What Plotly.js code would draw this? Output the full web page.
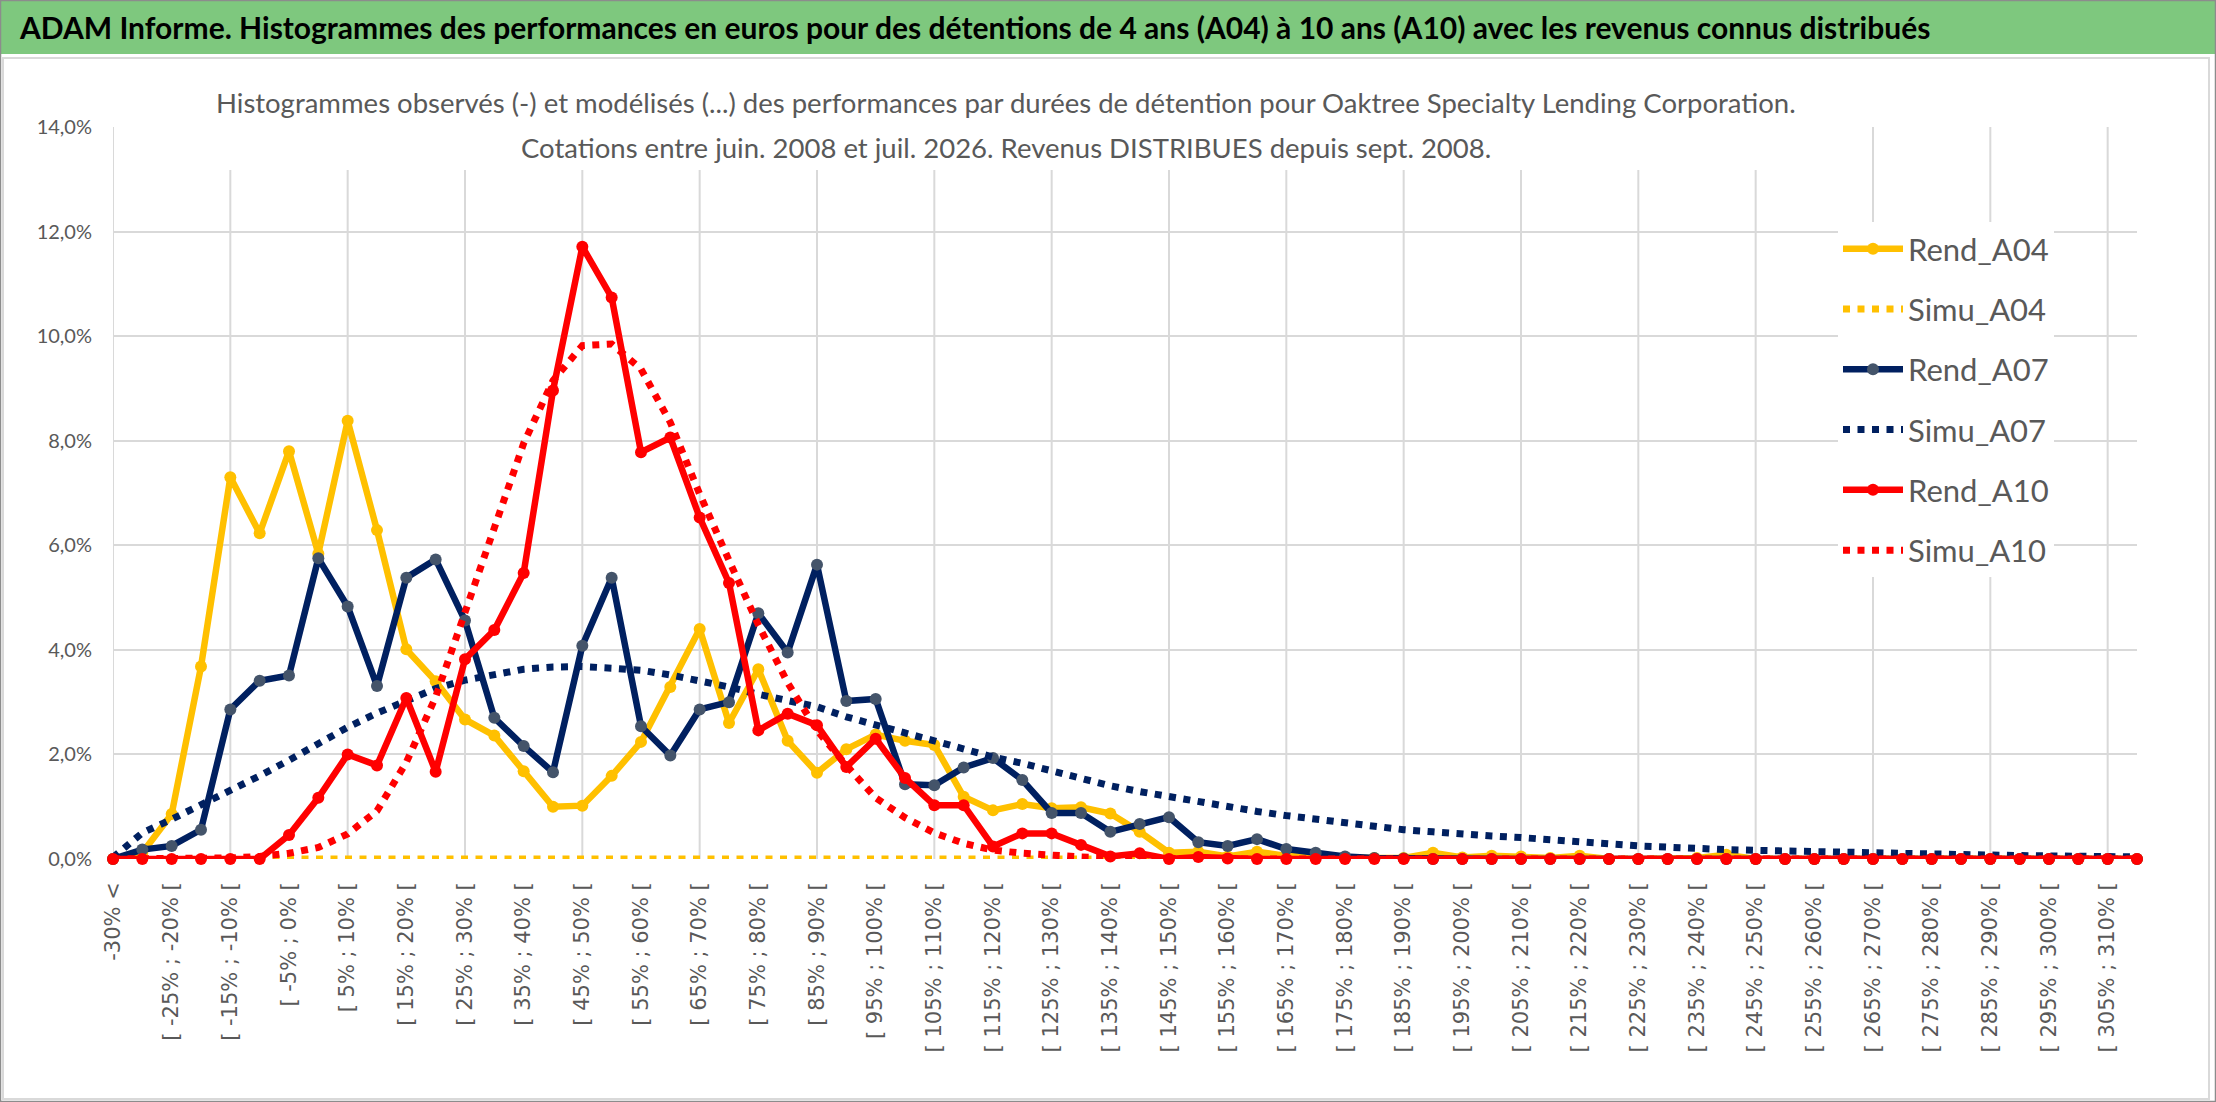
<!DOCTYPE html>
<html>
<head>
<meta charset="utf-8">
<script src="https://cdn.plot.ly/plotly-3.0.1.min.js"></script>
<style>
  body { margin: 0; background: #ffffff; }
  #chart { width: 2216px; height: 1102px; }
</style>
</head>
<body>
<div id="chart"></div>
<script>
// classes de performance (pas de 5%)
const categories = [
  "-30% <", "[ -30% ; -25% [", "[ -25% ; -20% [", "[ -20% ; -15% [", "[ -15% ; -10% [",
  "[ -10% ; -5% [", "[ -5% ; 0% [", "[ 0% ; 5% [", "[ 5% ; 10% [", "[ 10% ; 15% [",
  "[ 15% ; 20% [", "[ 20% ; 25% [", "[ 25% ; 30% [", "[ 30% ; 35% [", "[ 35% ; 40% [",
  "[ 40% ; 45% [", "[ 45% ; 50% [", "[ 50% ; 55% [", "[ 55% ; 60% [", "[ 60% ; 65% [",
  "[ 65% ; 70% [", "[ 70% ; 75% [", "[ 75% ; 80% [", "[ 80% ; 85% [", "[ 85% ; 90% [",
  "[ 90% ; 95% [", "[ 95% ; 100% [", "[ 100% ; 105% [", "[ 105% ; 110% [", "[ 110% ; 115% [",
  "[ 115% ; 120% [", "[ 120% ; 125% [", "[ 125% ; 130% [", "[ 130% ; 135% [", "[ 135% ; 140% [",
  "[ 140% ; 145% [", "[ 145% ; 150% [", "[ 150% ; 155% [", "[ 155% ; 160% [", "[ 160% ; 165% [",
  "[ 165% ; 170% [", "[ 170% ; 175% [", "[ 175% ; 180% [", "[ 180% ; 185% [", "[ 185% ; 190% [",
  "[ 190% ; 195% [", "[ 195% ; 200% [", "[ 200% ; 205% [", "[ 205% ; 210% [", "[ 210% ; 215% [",
  "[ 215% ; 220% [", "[ 220% ; 225% [", "[ 225% ; 230% [", "[ 230% ; 235% [", "[ 235% ; 240% [",
  "[ 240% ; 245% [", "[ 245% ; 250% [", "[ 250% ; 255% [", "[ 255% ; 260% [", "[ 260% ; 265% [",
  "[ 265% ; 270% [", "[ 270% ; 275% [", "[ 275% ; 280% [", "[ 280% ; 285% [", "[ 285% ; 290% [",
  "[ 290% ; 295% [", "[ 295% ; 300% [", "[ 300% ; 305% [", "[ 305% ; 310% [", "[ 310% ; 315% ["
];

// frequences en %
const rendA04 = [
  0, 0.12, 0.86, 3.68, 7.30, 6.23, 7.80, 5.84, 8.38, 6.29,
  4.01, 3.40, 2.67, 2.36, 1.68, 1.00, 1.02, 1.59, 2.24, 3.29,
  4.40, 2.60, 3.63, 2.26, 1.65, 2.10, 2.38, 2.26, 2.18, 1.19,
  0.93, 1.05, 0.97, 0.99, 0.87, 0.52, 0.12, 0.14, 0.05, 0.14,
  0.06, 0.08, 0.03, 0.02, 0.02, 0.12, 0.03, 0.06, 0.05, 0.02,
  0.06, 0, 0, 0, 0.02, 0.08, 0, 0, 0, 0,
  0, 0, 0, 0, 0, 0, 0, 0, 0, 0
];
const simuA04 = [
  0, 0, 0, 0, 0, 0, 0, 0, 0, 0,
  0, 0, 0, 0, 0, 0, 0, 0, 0, 0,
  0, 0, 0, 0, 0, 0, 0, 0, 0, 0,
  0, 0, 0, 0, 0, 0, 0, 0, 0, 0,
  0, 0, 0, 0, 0, 0, 0, 0, 0, 0,
  0, 0, 0, 0, 0, 0, 0, 0, 0, 0,
  0, 0, 0, 0, 0, 0, 0, 0, 0, 0
];
const rendA07 = [
  0, 0.18, 0.25, 0.56, 2.86, 3.41, 3.51, 5.75, 4.83, 3.31,
  5.38, 5.73, 4.56, 2.70, 2.16, 1.66, 4.08, 5.38, 2.54, 1.98,
  2.86, 3.00, 4.70, 3.95, 5.63, 3.02, 3.06, 1.43, 1.41, 1.75,
  1.93, 1.51, 0.88, 0.88, 0.52, 0.67, 0.80, 0.32, 0.25, 0.38,
  0.19, 0.12, 0.05, 0.02, 0.01, 0, 0, 0, 0, 0,
  0, 0, 0, 0, 0, 0, 0, 0, 0, 0,
  0, 0, 0, 0, 0, 0, 0, 0, 0, 0
];
const simuA07 = [
  0.03, 0.50, 0.76, 1.03, 1.30, 1.59, 1.89, 2.20, 2.52, 2.79,
  3.04, 3.26, 3.42, 3.53, 3.63, 3.67, 3.68, 3.65, 3.61, 3.52,
  3.41, 3.29, 3.15, 3.04, 2.91, 2.72, 2.58, 2.41, 2.26, 2.10,
  1.95, 1.83, 1.68, 1.56, 1.40, 1.29, 1.19, 1.08, 0.99, 0.91,
  0.83, 0.76, 0.69, 0.64, 0.56, 0.52, 0.47, 0.44, 0.41, 0.36,
  0.32, 0.29, 0.25, 0.22, 0.20, 0.18, 0.165, 0.15, 0.14, 0.13,
  0.12, 0.11, 0.095, 0.085, 0.075, 0.065, 0.06, 0.05, 0.045, 0.04
];
const rendA10 = [
  0, 0, 0, 0, 0, 0, 0.46, 1.17, 2.00, 1.79,
  3.08, 1.67, 3.82, 4.38, 5.47, 8.96, 11.71, 10.74, 7.78, 8.06,
  6.53, 5.28, 2.46, 2.78, 2.56, 1.76, 2.30, 1.55, 1.03, 1.03,
  0.24, 0.49, 0.49, 0.27, 0.05, 0.11, 0, 0.04, 0.01, 0,
  0, 0, 0, 0, 0, 0, 0, 0, 0, 0,
  0, 0, 0, 0, 0, 0, 0, 0, 0, 0,
  0, 0, 0, 0, 0, 0, 0, 0, 0, 0
];
const simuA10 = [
  0, 0, 0, 0.01, 0.02, 0.05, 0.11, 0.22, 0.48, 0.92,
  1.85, 3.10, 4.75, 6.35, 7.95, 9.15, 9.82, 9.85, 9.37, 8.35,
  6.98, 5.71, 4.48, 3.37, 2.46, 1.79, 1.17, 0.79, 0.50, 0.30,
  0.17, 0.11, 0.06, 0.04, 0.02, 0.01, 0, 0, 0, 0,
  0, 0, 0, 0, 0, 0, 0, 0, 0, 0,
  0, 0, 0, 0, 0, 0, 0, 0, 0, 0,
  0, 0, 0, 0, 0, 0, 0, 0, 0, 0
];

const labelTicks = categories.filter((c, i) => i % 2 === 0);
const gridTicks = categories.filter((c, i) => i % 4 === 0);

const W = 2216, H = 1102;
const M = { l: 113, r: 79, t: 127, b: 243 };
// pixels -> coordonnees papier
const px = x => (x - M.l) / (W - M.l - M.r);
const py = y => (H - M.b - y) / (H - M.t - M.b);

const GOLD = '#FFC000', NAVY = '#002060', NAVYMK = '#44546A', RED = '#FF0000';
const DOT = '7px,7.5px';

function rend(name, y, color, mk) {
  return {
    type: 'scatter', mode: 'lines+markers', name: name, legendgroup: name,
    x: categories, y: y, cliponaxis: false,
    line: { color: color, width: 6.5 },
    marker: { color: mk, size: 12, line: { width: 0 } }
  };
}
function simu(name, y, color) {
  return {
    type: 'scatter', mode: 'lines', name: name, legendgroup: name,
    x: categories, y: y, cliponaxis: false,
    line: { color: color, width: 7, dash: DOT }
  };
}

const traces = [
  rend('Rend_A04', rendA04, GOLD, GOLD),
  simu('Simu_A04', simuA04, GOLD),
  rend('Rend_A07', rendA07, NAVY, NAVYMK),
  simu('Simu_A07', simuA07, NAVY),
  rend('Rend_A10', rendA10, RED, RED),
  simu('Simu_A10', simuA10, RED)
];

const grey = '#595959';

// quadrillage vertical toutes les 4 classes
const gridShapes = gridTicks.map(c => ({
  type: 'line', xref: 'x', yref: 'paper', layer: 'below',
  x0: c, x1: c, y0: 0, y1: 1,
  line: { color: '#D9D9D9', width: 2 }
}));

const layout = {
  width: W, height: H,
  margin: M,
  paper_bgcolor: '#ffffff', plot_bgcolor: '#ffffff',
  separators: ', ',
  showlegend: true,
  xaxis: {
    type: 'category', categoryorder: 'array', categoryarray: categories,
    range: [0, categories.length - 1],
    tickvals: labelTicks, ticktext: labelTicks,
    tickangle: -90, showgrid: false, zeroline: false, showline: false,
    ticks: '', ticklabelstandoff: 18,
    tickfont: { family: 'DejaVu Sans', size: 21, color: grey }
  },
  yaxis: {
    range: [0, 14], dtick: 2, tickformat: '.1f', ticksuffix: '%',
    showgrid: true, gridcolor: '#D9D9D9', gridwidth: 2,
    zeroline: false, showline: false, ticks: '', ticklabelstandoff: 20,
    tickfont: { family: 'Lato, sans-serif', size: 20, color: grey }
  },
  legend: {
    x: px(1838), y: py(222), xanchor: 'left', yanchor: 'top',
    bgcolor: '#ffffff', borderwidth: 0, tracegroupgap: 17, itemwidth: 60,
    font: { family: 'Lato, sans-serif', size: 31, color: grey }
  },
  shapes: gridShapes.concat([
    { type: 'rect', xref: 'paper', yref: 'paper', layer: 'below',
      x0: px(3), x1: px(2209), y0: py(1099), y1: py(58),
      fillcolor: 'rgba(0,0,0,0)', line: { color: '#D9D9D9', width: 2 } },
    { type: 'rect', xref: 'paper', yref: 'paper', layer: 'above',
      x0: px(0), x1: px(W), y0: py(54), y1: py(0),
      fillcolor: '#7EC87E', line: { width: 0 } },
    { type: 'rect', xref: 'paper', yref: 'paper', layer: 'above',
      x0: px(212), x1: px(1802), y0: py(170), y1: py(78),
      fillcolor: '#ffffff', line: { width: 0 } },
    { type: 'rect', xref: 'paper', yref: 'paper', layer: 'above',
      x0: px(0.5), x1: px(W - 0.5), y0: py(H - 0.5), y1: py(0.5),
      fillcolor: 'rgba(0,0,0,0)', line: { color: '#8C8C8C', width: 1.5 } }
  ]),
  annotations: [
    { xref: 'paper', yref: 'paper', x: px(17), y: py(27), xanchor: 'left', yanchor: 'middle',
      showarrow: false,
      text: '<b>ADAM Informe. Histogrammes des performances en euros pour des détentions de 4 ans (A04) à 10 ans (A10) avec les revenus connus distribués</b>',
      font: { family: 'Lato, sans-serif', size: 30, color: '#000000' } },
    { xref: 'paper', yref: 'paper', x: px(1006), y: py(103), xanchor: 'center', yanchor: 'middle',
      showarrow: false,
      text: 'Histogrammes observés (-) et modélisés (...) des performances par durées de détention pour Oaktree Specialty Lending Corporation.',
      font: { family: 'Lato, sans-serif', size: 27.5, color: grey } },
    { xref: 'paper', yref: 'paper', x: px(1006), y: py(147), xanchor: 'center', yanchor: 'middle',
      showarrow: false,
      text: 'Cotations entre juin. 2008 et juil. 2026. Revenus DISTRIBUES depuis sept. 2008.',
      font: { family: 'Lato, sans-serif', size: 27.5, color: grey } }
  ]
};

Plotly.newPlot('chart', traces, layout, { displayModeBar: false, responsive: false });
</script>
</body>
</html>
